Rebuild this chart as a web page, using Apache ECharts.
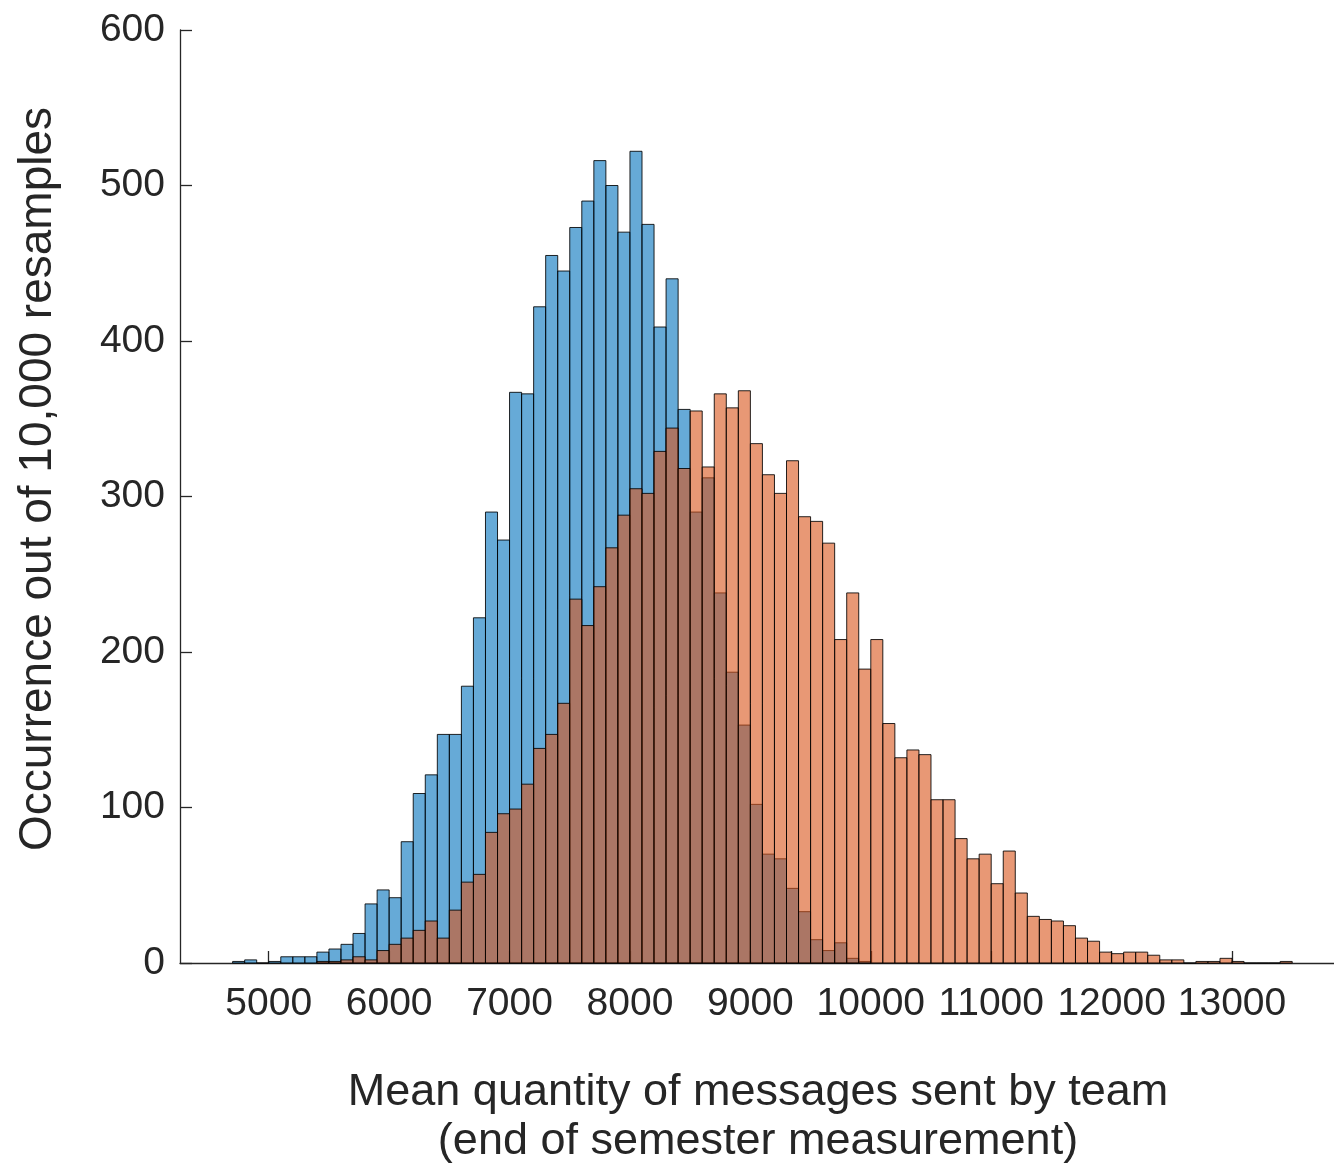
<!DOCTYPE html>
<html>
<head>
<meta charset="utf-8">
<script src="https://cdn.jsdelivr.net/npm/echarts@6/dist/echarts.min.js"></script>
<style>
  html, body { margin: 0; padding: 0; background: #ffffff; }
  #chart { width: 1334px; height: 1166px; }
</style>
</head>
<body>
<div id="chart"></div>
<script>
// ---- data ----
const binWidth = 100;
const binStarts = [
  4700, 4800, 4900, 5000, 5100, 5200, 5300, 5400, 5500, 5600,
  5700, 5800, 5900, 6000, 6100, 6200, 6300, 6400, 6500, 6600,
  6700, 6800, 6900, 7000, 7100, 7200, 7300, 7400, 7500, 7600,
  7700, 7800, 7900, 8000, 8100, 8200, 8300, 8400, 8500, 8600,
  8700, 8800, 8900, 9000, 9100, 9200, 9300, 9400, 9500, 9600,
  9700, 9800, 9900, 10000, 10100, 10200, 10300, 10400, 10500, 10600,
  10700, 10800, 10900, 11000, 11100, 11200, 11300, 11400, 11500, 11600,
  11700, 11800, 11900, 12000, 12100, 12200, 12300, 12400, 12500, 12600,
  12700, 12800, 12900, 13000, 13100, 13200, 13300, 13400
];
// blue histogram (first condition), aligned with binStarts
const blueCounts = [
  1, 2, 0, 1, 4, 4, 4, 7, 9, 12,
  19, 38, 47, 42, 78, 109, 121, 147, 147, 178,
  222, 290, 272, 367, 366, 422, 455, 445, 473, 490,
  516, 500, 470, 522, 475, 409, 440, 356, 290, 312,
  238, 187, 153, 102, 70, 67, 48, 33, 15, 8,
  13, 3, 1, null, null, null, null, null, null, null,
  null, null, null, null, null, null, null, null, null, null,
  null, null, null, null, null, null, null, null, null, null,
  null, null, null, null, null, null, null, null
];
// orange histogram (second condition), aligned with binStarts
const orangeCounts = [
  null, null, null, null, null, null, null, 1, 1, 2,
  4, 2, 8, 12, 16, 21, 27, 16, 34, 52,
  57, 84, 96, 99, 115, 138, 147, 167, 234, 217,
  242, 267, 288, 305, 302, 329, 344, 318, 355, 319,
  366, 357, 368, 334, 314, 302, 323, 287, 284, 270,
  208, 238, 189, 208, 154, 132, 137, 134, 105, 105,
  80, 67, 70, 51, 72, 45, 30, 28, 27, 24,
  16, 14, 7, 6, 7, 7, 5, 2, 2, 0,
  1, 1, 3, 1, 0, 0, 0, 1
];
const xTickValues = [5000, 6000, 7000, 8000, 9000, 10000, 11000, 12000, 13000];
const xAxisTitleLines = ['Mean quantity of messages sent by team', '(end of semester measurement)'];
const yAxisTitle = 'Occurrence out of 10,000 resamples';

// ---- build ----
function toRects(counts) {
  const out = [];
  for (let i = 0; i < binStarts.length; i++) {
    if (counts[i] === null || counts[i] === undefined) continue;
    out.push([binStarts[i], binStarts[i] + binWidth, counts[i]]);
  }
  return out;
}

function makeRender(fill) {
  return function (params, api) {
    const p0 = api.coord([api.value(0), 0]);
    const p1 = api.coord([api.value(1), api.value(2)]);
    return {
      type: 'rect',
      shape: { x: p0[0], y: p1[1], width: p1[0] - p0[0], height: p0[1] - p1[1] },
      style: { fill: fill, stroke: 'rgba(0,0,0,0.85)', lineWidth: 1 }
    };
  };
}

const FONT = '"Liberation Sans", Arial, Helvetica, sans-serif';
const TEXT = '#262626';

const chart = echarts.init(document.getElementById('chart'), null, { renderer: 'canvas' });
chart.setOption({
  animation: false,
  backgroundColor: '#ffffff',
  grid: { left: 180, right: 0, top: 30, bottom: 203, containLabel: false },
  xAxis: {
    type: 'value',
    min: 4263,
    max: 13847,
    axisLine: { show: true, onZero: false, lineStyle: { color: TEXT, width: 1.3 } },
    axisTick: { show: true, inside: true, length: 12, customValues: xTickValues, lineStyle: { color: TEXT, width: 1.3 } },
    axisLabel: {
      show: true, customValues: xTickValues, margin: 22, color: TEXT, fontSize: 39, fontFamily: FONT,
      formatter: function (v) { return String(v); }
    },
    splitLine: { show: false }
  },
  yAxis: {
    type: 'value',
    min: 0,
    max: 600,
    interval: 100,
    axisLine: { show: true, lineStyle: { color: TEXT, width: 1.3 } },
    axisTick: { show: true, inside: true, length: 12, lineStyle: { color: TEXT, width: 1.3 } },
    axisLabel: { show: true, margin: 15, color: TEXT, fontSize: 39, fontFamily: FONT },
    splitLine: { show: false }
  },
  graphic: [
    {
      type: 'text',
      x: 758, y: 1093,
      style: { text: xAxisTitleLines[0], fill: TEXT, font: '45px ' + FONT, textAlign: 'center', textVerticalAlign: 'middle' }
    },
    {
      type: 'text',
      x: 758, y: 1142,
      style: { text: xAxisTitleLines[1], fill: TEXT, font: '45px ' + FONT, textAlign: 'center', textVerticalAlign: 'middle' }
    },
    {
      type: 'text',
      x: 38, y: 479,
      rotation: Math.PI / 2,
      style: { text: yAxisTitle, fill: TEXT, font: '46px ' + FONT, textAlign: 'center', textVerticalAlign: 'middle' }
    }
  ],
  series: [
    {
      type: 'custom',
      name: 'blue',
      renderItem: makeRender('rgba(0,114,189,0.6)'),
      encode: { x: [0, 1], y: 2 },
      data: toRects(blueCounts),
      z: 2
    },
    {
      type: 'custom',
      name: 'orange',
      renderItem: makeRender('rgba(217,83,25,0.6)'),
      encode: { x: [0, 1], y: 2 },
      data: toRects(orangeCounts),
      z: 3
    }
  ]
});
</script>
</body>
</html>
